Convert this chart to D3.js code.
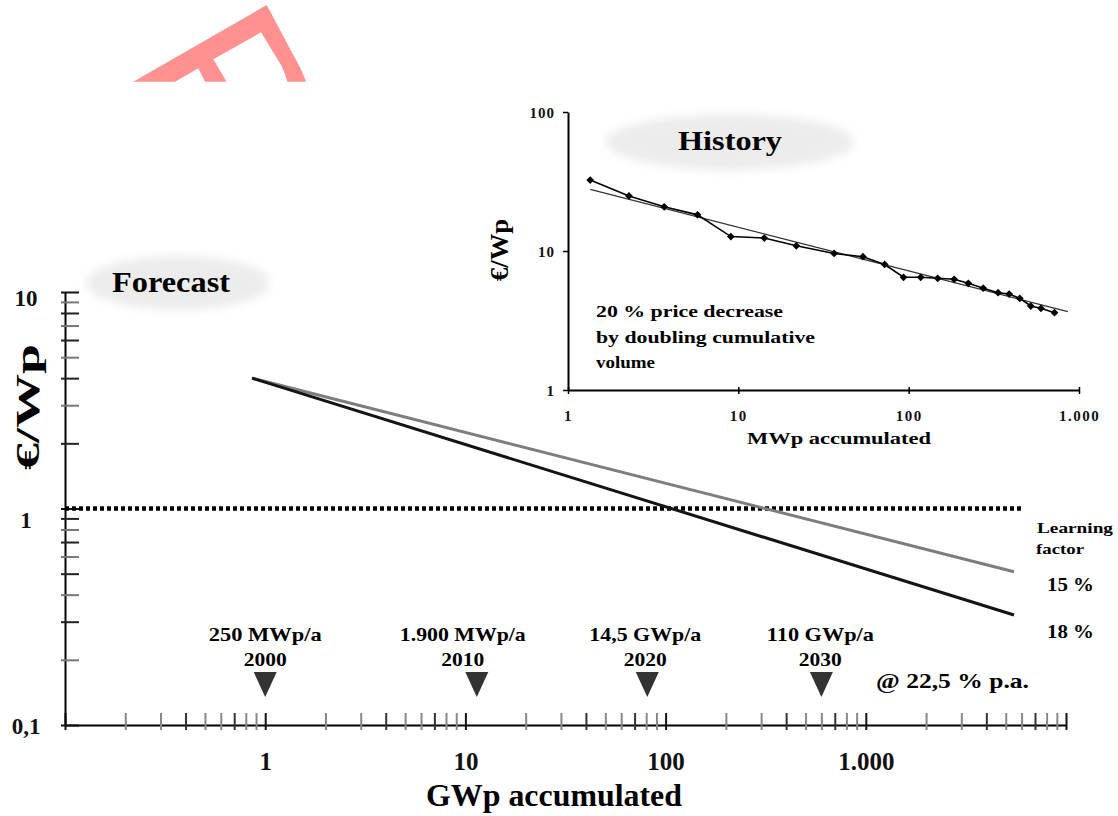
<!DOCTYPE html>
<html><head><meta charset="utf-8">
<script src="https://cdn.jsdelivr.net/npm/d3@7"></script>
<style>
html,body{margin:0;padding:0;background:#fff;}
svg{display:block;font-family:"Liberation Serif","Times New Roman",serif;font-weight:bold;}
</style>
</head><body><div id="chart"></div>
<script>
// ---------------- data ----------------
const gwpTickValues = [1, 10, 100, 1000];
const gwpTickLabels = ["1", "10", "100", "1.000"];
const priceTickValues = [0.1, 1, 10];
const priceTickLabels = ["0,1", "1", "10"];
const learningFactors = ["15 %", "18 %"];
const curveGWp = [0.86, 5500];
const curvePrice15 = [4.0, 0.51];
const curvePrice18 = [4.0, 0.322];
const parityGWp = [0.1, 6000];
const parityPrice = [1, 1];
const milestoneYears = ["2000", "2010", "2020", "2030"];
const milestoneRates = ["250 MWp/a", "1.900 MWp/a", "14,5 GWp/a", "110 GWp/a"];
const milestoneGWp = [1, 11.4, 81, 600];
const growthLabel = "@ 22,5 % p.a.";

const historyMWp = [1.35, 2.28, 3.67, 5.76, 9.04, 14.2, 21.9, 36.5, 53.9, 72.3, 93.3, 117.6, 148, 185, 224, 274, 335, 389, 449, 521, 598, 718];
const historyPrice = [32.4, 24.9, 20.8, 18.2, 12.7, 12.4, 10.9, 9.6, 9.1, 8.0, 6.47, 6.47, 6.36, 6.26, 5.86, 5.4, 5.01, 4.9, 4.57, 4.02, 3.87, 3.6];
const trendMWp = [1.35, 860];
const trendPrice = [27.8, 3.66];
const mwpTickValues = [1, 10, 100, 1000];
const mwpTickLabels = ["1", "10", "100", "1.000"];
const historyPriceTicks = [1, 10, 100];
const historyPriceLabels = ["1", "10", "100"];

// ---------------- layout ----------------
const W = 1118, H = 816;
const svg = d3.select("#chart").append("svg").attr("width", W).attr("height", H);
const defs = svg.append("defs");
defs.append("filter").attr("id", "soft").attr("x", "-20%").attr("y", "-40%").attr("width", "140%").attr("height", "180%")
  .append("feGaussianBlur").attr("stdDeviation", 5);

// decorative red logo fragment (top-left)
svg.append("path")
  .attr("d", "M133.3,81.7 L266.7,5 L293.3,55 Q302,70 306,81.7 L287.3,81.7 Q284,70 280,63.3 L261,32.3 L213.3,59.3 L226.7,81.7 L205,81.7 L198.3,68.3 L175,81.7 Z")
  .attr("fill", "#ff9191");

// ---------------- main chart ----------------
const x = d3.scaleLog().domain([0.1, 10000]).range([65, 1066]);
const y = d3.scaleLog().domain([0.1, 10]).range([725, 292]);

// Forecast bubble
svg.append("ellipse").attr("cx", 178).attr("cy", 283).attr("rx", 92).attr("ry", 27)
  .attr("fill", "#ececec").attr("filter", "url(#soft)");
svg.append("text").attr("x", 112).attr("y", 292).attr("font-size", 29)
  .attr("textLength", 118).attr("lengthAdjust", "spacingAndGlyphs").text("Forecast");

// minor/major ticks
const xTicksAll = [];
for (let e = -1; e <= 3; e++) for (let k = 1; k < 10; k++) xTicksAll.push(+(k * Math.pow(10, e)).toPrecision(3));
xTicksAll.push(10000);
const yTicksAll = [];
for (let e = -1; e <= 0; e++) for (let k = 1; k < 10; k++) yTicksAll.push(+(k * Math.pow(10, e)).toPrecision(3));
yTicksAll.push(10);
const isMajor = v => Math.abs(Math.log10(v) - Math.round(Math.log10(v))) < 1e-6;

const xAxisG = svg.append("g").attr("transform", `translate(0,${y(0.1)})`)
  .call(d3.axisBottom(x).tickValues(xTicksAll).tickSize(5).tickSizeOuter(0).tickFormat(""));
xAxisG.select(".domain").attr("stroke", "#000").attr("stroke-width", 2);
xAxisG.selectAll(".tick line").attr("y1", -12).attr("stroke-width", 2)
  .attr("stroke", (d, i) => isMajor(d) ? "#111" : (i % 3 === 0 ? "#333" : "#888"));

const yAxisG = svg.append("g").attr("transform", `translate(${x(0.1)},0)`)
  .call(d3.axisLeft(y).tickValues(yTicksAll).tickSize(4).tickSizeOuter(0).tickFormat(""));
yAxisG.select(".domain").attr("stroke", "#000").attr("stroke-width", 2);
yAxisG.selectAll(".tick line").attr("x1", 14).attr("stroke-width", 2)
  .attr("stroke", (d, i) => isMajor(d) ? "#111" : (i % 2 === 0 ? "#222" : "#777"));

// axis labels
const xLab = svg.append("g").attr("transform", `translate(0,${y(0.1)})`)
  .call(d3.axisBottom(x).tickValues(gwpTickValues).tickFormat((d, i) => gwpTickLabels[i]).tickSize(0));
xLab.select(".domain").remove();
xLab.selectAll("text").attr("y", 45).attr("dy", 0).attr("font-size", 25)
  .attr("font-family", "Liberation Serif, serif").attr("font-weight", "bold").attr("fill", "#111");

const yLabDy = [8, 19, 13];
const yLab = svg.append("g").attr("transform", `translate(${x(0.1)},0)`)
  .call(d3.axisLeft(y).tickValues(priceTickValues).tickFormat((d, i) => priceTickLabels[i]).tickSize(0));
yLab.select(".domain").remove();
yLab.selectAll("text").attr("x", 26 - 65).attr("text-anchor", "middle").attr("dy", (d, i) => yLabDy[i])
  .attr("font-size", 23).attr("font-family", "Liberation Serif, serif").attr("font-weight", "bold").attr("fill", "#111");

svg.append("text").attr("transform", "translate(39,407) rotate(-90)").attr("text-anchor", "middle")
  .attr("font-size", 34).attr("textLength", 126).attr("lengthAdjust", "spacingAndGlyphs").text("€/Wp");
svg.append("text").attr("x", 554).attr("y", 806).attr("text-anchor", "middle")
  .attr("font-size", 31).attr("textLength", 256).attr("lengthAdjust", "spacingAndGlyphs").text("GWp accumulated");

// parity dotted line
const line = d3.line().x(d => x(d[0])).y(d => y(d[1]));
svg.append("path").datum(parityGWp.map((g, i) => [g, parityPrice[i]]))
  .attr("d", line).attr("fill", "none").attr("stroke", "#000").attr("stroke-width", 4.5)
  .attr("stroke-dasharray", "4,3");

// learning curves
svg.append("path").datum(curveGWp.map((g, i) => [g, curvePrice15[i]]))
  .attr("d", line).attr("fill", "none").attr("stroke", "#7d7d7d").attr("stroke-width", 3);
svg.append("path").datum(curveGWp.map((g, i) => [g, curvePrice18[i]]))
  .attr("d", line).attr("fill", "none").attr("stroke", "#141414").attr("stroke-width", 3);

// learning factor labels
svg.append("text").attr("x", 1037).attr("y", 533).attr("font-size", 15)
  .attr("textLength", 76).attr("lengthAdjust", "spacingAndGlyphs").text("Learning");
svg.append("text").attr("x", 1036).attr("y", 554).attr("font-size", 15)
  .attr("textLength", 48).attr("lengthAdjust", "spacingAndGlyphs").text("factor");
const lfY = [591, 638];
learningFactors.forEach((t, i) => {
  svg.append("text").attr("x", 1047).attr("y", lfY[i]).attr("font-size", 19)
    .attr("textLength", 47).attr("lengthAdjust", "spacingAndGlyphs").text(t);
});

// milestones
const msDx = [0, -14, -2, -1];
const rateW = [113, 126, 112, 107];
milestoneGWp.forEach((g, i) => {
  const cx = x(g);
  svg.append("path").attr("d", `M${cx - 11.5},672 L${cx + 11.5},672 L${cx},697 Z`).attr("fill", "#333");
  svg.append("text").attr("x", cx + msDx[i]).attr("y", 641).attr("text-anchor", "middle").attr("font-size", 19)
    .attr("textLength", rateW[i]).attr("lengthAdjust", "spacingAndGlyphs").text(milestoneRates[i]);
  svg.append("text").attr("x", cx + msDx[i]).attr("y", 666).attr("text-anchor", "middle").attr("font-size", 19)
    .attr("textLength", 43).attr("lengthAdjust", "spacingAndGlyphs").text(milestoneYears[i]);
});
svg.append("text").attr("x", 876).attr("y", 688).attr("font-size", 21)
  .attr("textLength", 153).attr("lengthAdjust", "spacingAndGlyphs").text(growthLabel);

// ---------------- inset: History ----------------
const hx = d3.scaleLog().domain([1, 1000]).range([568, 1079]);
const hy = d3.scaleLog().domain([1, 100]).range([390, 112]);

svg.append("ellipse").attr("cx", 730).attr("cy", 142).attr("rx", 124).attr("ry", 28)
  .attr("fill", "#ececec").attr("filter", "url(#soft)");
svg.append("text").attr("x", 678).attr("y", 150).attr("font-size", 27)
  .attr("textLength", 104).attr("lengthAdjust", "spacingAndGlyphs").text("History");

const hxAxis = svg.append("g").attr("transform", `translate(0,${hy(1)})`)
  .call(d3.axisBottom(hx).tickValues(mwpTickValues).tickSize(4).tickSizeOuter(0).tickFormat(""));
hxAxis.select(".domain").attr("stroke", "#000").attr("stroke-width", 2);
hxAxis.selectAll(".tick line").attr("y1", -3).attr("stroke", "#000").attr("stroke-width", 1.5);
const hxLab = svg.append("g").attr("transform", `translate(0,${hy(1)})`)
  .call(d3.axisBottom(hx).tickValues(mwpTickValues).tickFormat((d, i) => mwpTickLabels[i]).tickSize(0));
hxLab.select(".domain").remove();
hxLab.selectAll("text").attr("y", 31).attr("dy", 0).attr("font-size", 15).attr("letter-spacing", 1.5)
  .attr("font-family", "Liberation Serif, serif").attr("font-weight", "bold").attr("fill", "#111");

const hyAxis = svg.append("g").attr("transform", `translate(${hx(1)},0)`)
  .call(d3.axisLeft(hy).tickValues(historyPriceTicks).tickSize(5).tickSizeOuter(0).tickFormat(""));
hyAxis.select(".domain").attr("stroke", "#000").attr("stroke-width", 2);
hyAxis.selectAll(".tick line").attr("stroke", "#000").attr("stroke-width", 1.5);
const hyLab = svg.append("g").attr("transform", `translate(${hx(1)},0)`)
  .call(d3.axisLeft(hy).tickValues(historyPriceTicks).tickFormat((d, i) => historyPriceLabels[i]).tickSize(0));
hyLab.select(".domain").remove();
hyLab.selectAll("text").attr("x", -13).attr("dy", 5).attr("font-size", 15).attr("letter-spacing", 1)
  .attr("font-family", "Liberation Serif, serif").attr("font-weight", "bold").attr("fill", "#111");

svg.append("text").attr("transform", "translate(508,250) rotate(-90)").attr("text-anchor", "middle")
  .attr("font-size", 25).attr("textLength", 62).attr("lengthAdjust", "spacingAndGlyphs").text("€/Wp");
svg.append("text").attr("x", 839).attr("y", 444).attr("text-anchor", "middle").attr("font-size", 17)
  .attr("textLength", 184).attr("lengthAdjust", "spacingAndGlyphs").text("MWp accumulated");

const noteLines = ["20 % price decrease", "by doubling cumulative", "volume"];
const noteW = [187, 219, 59];
noteLines.forEach((t, i) => {
  svg.append("text").attr("x", 596).attr("y", 317 + i * 25.5).attr("font-size", 16)
    .attr("textLength", noteW[i]).attr("lengthAdjust", "spacingAndGlyphs").text(t);
});

const hline = d3.line().x(d => hx(d[0])).y(d => hy(d[1]));
svg.append("path").datum(trendMWp.map((m, i) => [m, trendPrice[i]]))
  .attr("d", hline).attr("fill", "none").attr("stroke", "#333").attr("stroke-width", 1.3);
const histData = historyMWp.map((m, i) => [m, historyPrice[i]]);
svg.append("path").datum(histData).attr("d", hline).attr("fill", "none")
  .attr("stroke", "#000").attr("stroke-width", 1.6);
svg.append("g").selectAll("path").data(histData).join("path")
  .attr("d", d3.symbol(d3.symbolSquare, 30)())
  .attr("transform", d => `translate(${hx(d[0])},${hy(d[1])}) rotate(45)`)
  .attr("fill", "#000");
</script>
</body></html>
